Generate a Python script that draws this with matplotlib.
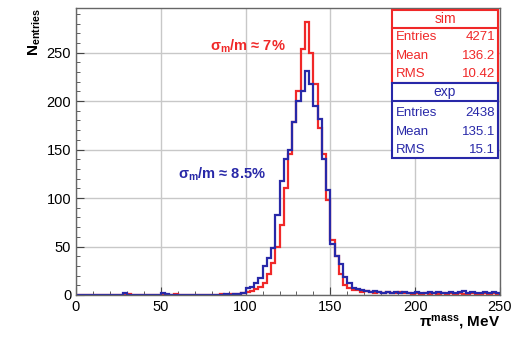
import numpy as np
import matplotlib
matplotlib.use("Agg")
import matplotlib.pyplot as plt
from matplotlib.patches import Rectangle
from matplotlib.ticker import MultipleLocator

plt.rcParams['font.family'] = ['Liberation Sans', 'DejaVu Sans']
plt.rcParams['mathtext.fontset'] = 'custom'
plt.rcParams['mathtext.rm'] = 'Liberation Sans'
plt.rcParams['mathtext.bf'] = 'Liberation Sans:bold'
plt.rcParams['mathtext.it'] = 'Liberation Sans:italic'

# ---- data ----
bin_edges = np.arange(0, 252.5, 2.5)

sim_counts = [
    0, 0, 0, 0, 0, 0, 0, 0, 0, 0,
    0, 0, 1, 0, 0, 0, 0, 0, 0, 0,
    0, 0, 0, 1, 0, 0, 0, 0, 0, 0,
    0, 0, 0, 0, 1, 0, 1, 1,
    1, 2, 3, 4, 6, 8, 12, 22, 33, 50,
    72, 110, 145, 178, 210, 254, 282, 250, 218, 172,
    145, 98, 57, 40, 22, 10, 7, 5, 5, 3,
    4, 3, 2, 3, 2, 3, 2, 2, 3, 2,
    2, 1, 2, 1, 2, 1, 2, 1, 2, 1,
    2, 1, 2, 1, 1, 2, 1, 1, 2, 1,
    2, 1,
]
exp_counts = [
    0, 0, 0, 0, 0, 0, 0, 0, 0, 0,
    0, 2, 0, 0, 0, 0, 0, 0, 0, 0,
    2, 1, 0, 0, 0, 0, 0, 0, 0, 0,
    0, 0, 0, 0, 0, 1, 0, 1,
    1, 2, 7, 8, 12, 18, 30, 38, 48, 82,
    118, 140, 150, 178, 200, 210, 231, 218, 195, 182,
    140, 108, 53, 40, 32, 19, 12, 7, 6, 5,
    4, 3, 4, 3, 2, 3, 2, 3, 2, 3,
    2, 2, 3, 2, 2, 3, 2, 3, 2, 2,
    3, 2, 3, 4, 2, 3, 2, 2, 3, 2,
    3, 2,
]

sim_stats = [("Entries", "4271"), ("Mean", "136.2"), ("RMS", "10.42")]
exp_stats = [("Entries", "2438"), ("Mean", "135.1"), ("RMS", "15.1")]

RED = '#f02828'
BLUE = '#2828a8'

W, H = 525, 341
fig = plt.figure(figsize=(W / 100, H / 100), dpi=100)
ax = fig.add_axes([76 / W, 1 - 295 / H, (500 - 76) / W, (295 - 8) / H])

ax.stairs(sim_counts, bin_edges, color=RED, lw=1.6)
ax.stairs(exp_counts, bin_edges, color=BLUE, lw=1.6)

ax.set_xlim(0, 250)
ax.set_ylim(0, 296)
ax.xaxis.set_major_locator(MultipleLocator(50))
ax.xaxis.set_minor_locator(MultipleLocator(10))
ax.yaxis.set_major_locator(MultipleLocator(50))
ax.yaxis.set_minor_locator(MultipleLocator(10))
ax.tick_params(which='both', direction='in', labelsize=10.5, color='#444444')
ax.tick_params(which='major', length=6)
ax.tick_params(which='minor', length=3)
ax.grid(True, which='major', color='#c8c8c8', lw=1.0)
ax.set_axisbelow(True)
for s in ax.spines.values():
    s.set_color('#666666')
    s.set_linewidth(1.0)

ax.text(79, 257, r'σ$_\mathbf{m}$/m ≈ 7%', color=RED, fontsize=10.5,
        fontweight='bold', va='center')
ax.text(60, 125, r'σ$_\mathbf{m}$/m ≈ 8.5%', color=BLUE, fontsize=10.5,
        fontweight='bold', va='center')

fig.text(35 / W, 1 - 8 / H, r'N$_\mathbf{entries}$', rotation=90, fontsize=11,
         fontweight='bold', ha='center', va='top')
fig.text(500 / W, 1 - 323 / H, r'$\mathregular{\pi}^{\mathbf{mass}}$, MeV',
         fontsize=11, fontweight='bold', ha='right', va='center')


def stat_box(top, bottom, header_bottom, title, rows, row_ys, color):
    x0, x1 = 392 / W, 498 / W
    r = Rectangle((x0, 1 - bottom / H), x1 - x0, (bottom - top) / H,
                  transform=fig.transFigure, facecolor='white',
                  edgecolor=color, lw=1.5, zorder=5)
    fig.add_artist(r)
    fig.add_artist(plt.Line2D([x0, x1], [1 - header_bottom / H] * 2,
                              transform=fig.transFigure, color=color, lw=1.5,
                              zorder=6))
    fig.text((x0 + x1) / 2, 1 - (top + header_bottom) / 2 / H, title,
             color=color, fontsize=10, ha='center', va='center', zorder=7)
    for (lab, val), y in zip(rows, row_ys):
        fig.text(396 / W, 1 - y / H, lab, color=color, fontsize=9.5,
                 ha='left', va='center', zorder=7)
        fig.text(495 / W, 1 - y / H, val, color=color, fontsize=9.5,
                 ha='right', va='center', zorder=7)


stat_box(10, 83, 28, 'sim', sim_stats, [37, 56, 74], RED)
stat_box(83, 158, 101, 'exp', exp_stats, [113, 132, 150], BLUE)

fig.savefig('out.png', dpi=100)
